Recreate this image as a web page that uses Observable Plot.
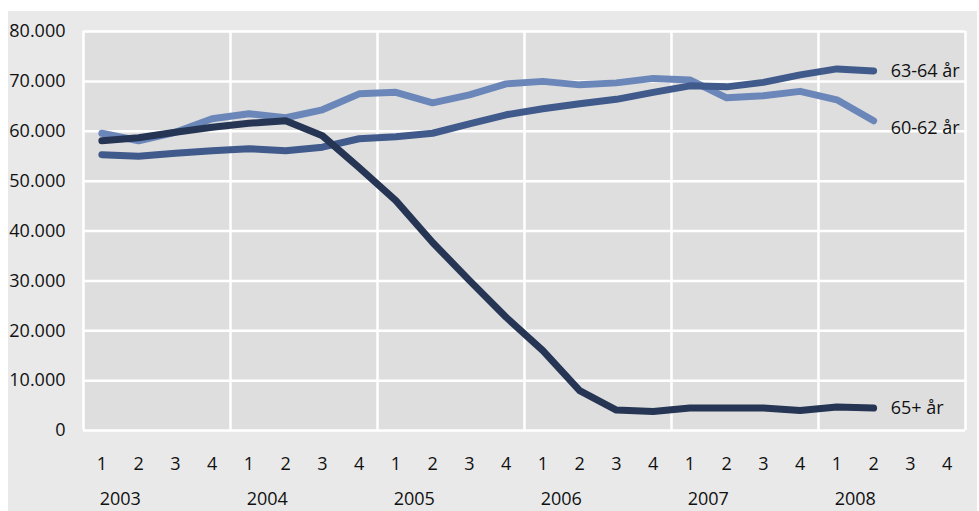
<!DOCTYPE html>
<html><head><meta charset="utf-8">
<script src="https://cdn.jsdelivr.net/npm/d3@7"></script>
<script src="https://cdn.jsdelivr.net/npm/@observablehq/plot@0.6"></script>
<style>
body{margin:0;background:#fff;}
#bg{position:absolute;left:8px;top:11px;width:969px;height:500px;background:#e9e9e9;}
#chart{position:absolute;left:0;top:0;}
</style></head><body><div id="bg"></div><div id="chart"></div>
<script>
const years = [2003, 2004, 2005, 2006, 2007, 2008];
const quarterLabels = ["1", "2", "3", "4"];
const yTicks = [0, 10000, 20000, 30000, 40000, 50000, 60000, 70000, 80000];
const seriesNames = ["60-62 år", "63-64 år", "65+ år"];
const seriesColors = ["#6b87b9", "#3f5a8b", "#253553"];
// 2003 Q1 .. 2008 Q2
const age6062 = [59600, 58100, 59800, 62500, 63500, 62700, 64300, 67500, 67800, 65700, 67300, 69500, 70000, 69300, 69700, 70600, 70300, 66700, 67100, 68000, 66300, 62100];
const age6364 = [55300, 55000, 55600, 56100, 56500, 56100, 56800, 58500, 58900, 59600, 61500, 63300, 64500, 65500, 66400, 67800, 69100, 68900, 69800, 71300, 72500, 72100];
const age65 = [58100, 58700, 59800, 60800, 61600, 62100, 59100, 52700, 46100, 37700, 30100, 22700, 16000, 8000, 4100, 3800, 4500, 4500, 4500, 4000, 4700, 4500];
const labelDy = [7, 0, 0];

const allValues = [age6062, age6364, age65];
const series = seriesNames.map((name, s) => ({
  name, color: seriesColors[s], dy: labelDy[s],
  rows: allValues[s].map((v, i) => ({x: i + 0.5, value: v, series: name}))
}));

const nQ = years.length * quarterLabels.length;
const qTicks = d3.range(nQ).map(i => i + 0.5);
const yearTicks = years.map((y, i) => i * 4 + 1);
const fmt = d => d3.format(",")(d).replace(/,/g, ".");

const marks = [
  Plot.frame({fill: "#dedede", stroke: null}),
  Plot.ruleY(yTicks, {stroke: "#fff", strokeWidth: 2.5}),
  Plot.ruleX(d3.range(0, nQ + 1, 4), {stroke: "#fff", strokeWidth: 2.5}),
  Plot.axisY(yTicks, {tickSize: 0, tickPadding: 18, tickFormat: fmt, label: null}),
  Plot.axisX(qTicks, {tickSize: 0, tickPadding: 27, tickFormat: d => quarterLabels[Math.floor(d) % 4], label: null}),
  Plot.axisX(yearTicks, {tickSize: 0, tickPadding: 62, tickFormat: d => String(years[(d - 1) / 4]), label: null})
];
for (const s of series) {
  marks.push(Plot.line(s.rows, {x: "x", y: "value", stroke: s.color, strokeWidth: 7, strokeLinecap: "round", strokeLinejoin: "round"}));
}
for (const s of series) {
  marks.push(Plot.text([s.rows[s.rows.length - 1]], {x: "x", y: "value", text: "series", dx: 17, dy: s.dy, textAnchor: "start", fill: "#111"}));
}

const chart = Plot.plot({
  width: 979, height: 511,
  marginLeft: 83, marginRight: 14, marginTop: 31, marginBottom: 81,
  style: {fontSize: "18px", fontFamily: "'Open Sans', sans-serif", color: "#111", background: "transparent", overflow: "visible"},
  x: {domain: [0, nQ]},
  y: {domain: [0, 80000]},
  marks
});
document.getElementById("chart").append(chart);
</script></body></html>
